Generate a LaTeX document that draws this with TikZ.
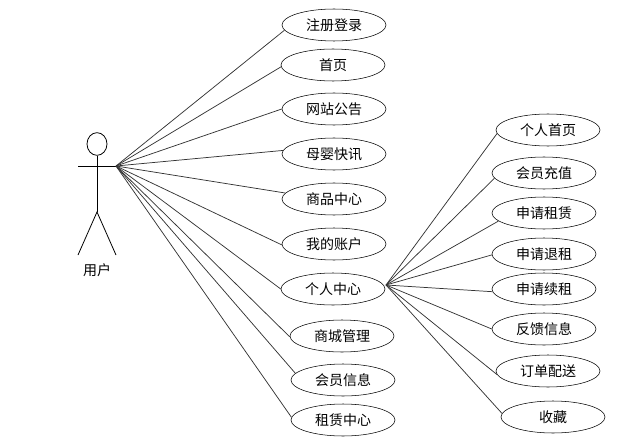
\documentclass[tikz,border=0pt]{standalone}
\usepackage{fontspec}
\usetikzlibrary{shapes.geometric}
\setmainfont{Noto Sans CJK SC}
\tikzset{
	usecase/.style={draw,ellipse,thin,inner sep=0pt,minimum width=78pt,minimum height=24pt,font=\fontsize{10.5}{12}\selectfont},
	assoc/.style={draw=black!80,line width=0.55pt},
	stick/.style={draw,line width=0.6pt}
}
\begin{document}
\begin{tikzpicture}[x=0.75pt,y=-0.75pt]
	\useasboundingbox (0,0) rectangle (620,442);

	% actor
	\node[draw,ellipse,line width=0.6pt,inner sep=0pt,minimum width=15pt,minimum height=17pt] (head) at (97,144) {};
	\coordinate (hip) at (97,212);
	\coordinate (handL) at (78,166);
	\coordinate (handR) at (116,166);
	\coordinate (footL) at (78,255);
	\coordinate (footR) at (116,255);
	\draw[stick] (head.south) -- (hip);
	\draw[stick] (handL) -- (handR);
	\draw[stick] (footL) -- (hip) -- (footR);
	\node[font=\fontsize{10.5}{12}\selectfont] (user) at (97,270) {用户};

	% left column
	\node[usecase] (register) at (334,25) {注册登录};
	\node[usecase] (home) at (333,65) {首页};
	\node[usecase] (notice) at (334,109) {网站公告};
	\node[usecase] (news) at (334,154) {母婴快讯};
	\node[usecase] (goods) at (334,199) {商品中心};
	\node[usecase] (account) at (334,244) {我的账户};
	\node[usecase] (center) at (333,289) {个人中心};
	\node[usecase] (mall) at (342,336) {商城管理};
	\node[usecase] (member) at (343,380) {会员信息};
	\node[usecase] (rent) at (343,420) {租赁中心};

	% right column
	\node[usecase] (profile) at (548,130) {个人首页};
	\node[usecase] (recharge) at (544,173) {会员充值};
	\node[usecase] (apply) at (544,213) {申请租赁};
	\node[usecase] (refund) at (544,254) {申请退租};
	\node[usecase] (renew) at (544,289) {申请续租};
	\node[usecase] (feedback) at (544,329) {反馈信息};
	\node[usecase] (delivery) at (548,371) {订单配送};
	\node[usecase] (favorite) at (553,417) {收藏};

	\draw[assoc] (handR) -- (register.186);
	\draw[assoc] (handR) -- (home.182);
	\draw[assoc] (handR) -- (notice.west);
	\draw[assoc] (handR) -- (news.176);
	\draw[assoc] (handR) -- (goods.173);
	\draw[assoc] (handR) -- (account.181);
	\draw[assoc] (handR) -- (center.west);
	\draw[assoc] (handR) -- (mall.181);
	\draw[assoc] (handR) -- (member.172);
	\draw[assoc] (handR) -- (rent.177);

	\coordinate (hub) at (386,285);
	\draw[assoc] (hub) -- (profile.184);
	\draw[assoc] (hub) -- (recharge.186);
	\draw[assoc] (hub) -- (apply.190);
	\draw[assoc] (hub) -- (refund.181);
	\draw[assoc] (hub) -- (renew.183);
	\draw[assoc] (hub) -- (feedback.west);
	\draw[assoc] (hub) -- (delivery.184);
	\draw[assoc] (hub) -- (favorite.176);
\end{tikzpicture}
\end{document}
